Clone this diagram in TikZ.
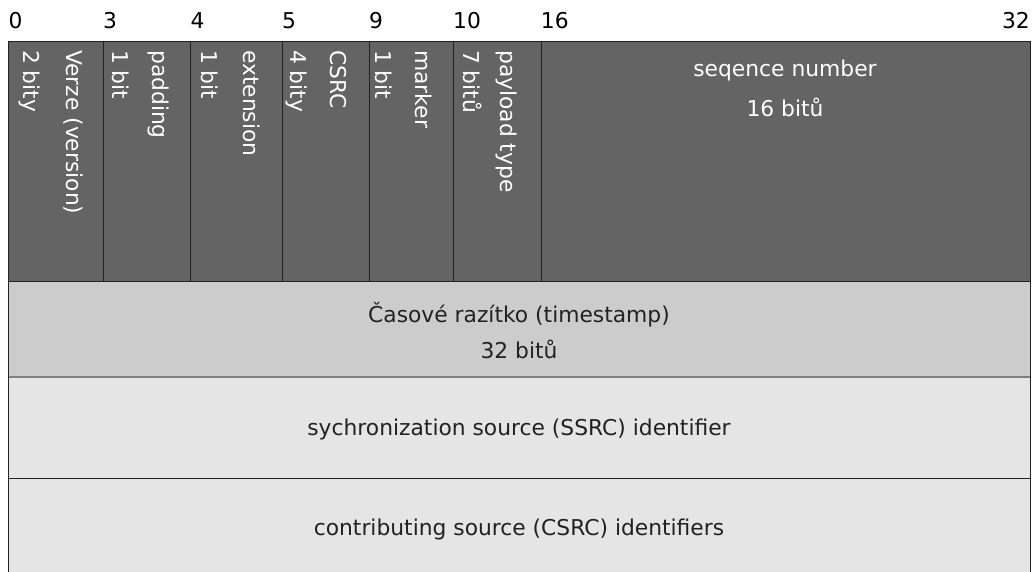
\documentclass[tikz,border=0pt]{standalone}
\usepackage{fontspec}
\setmainfont{DejaVu Sans}
\usepackage{tikz}
\definecolor{hdrgray}{HTML}{646464}
\definecolor{tsgray}{HTML}{CCCCCC}
\definecolor{idgray}{HTML}{E5E5E5}
\definecolor{edgegray}{HTML}{222222}

\begin{document}
\begin{tikzpicture}[x=1pt, y=-1pt, font=\fontsize{21.8}{26}\selectfont,
  vtext/.style={rotate=-90, anchor=base west, inner sep=0pt, text=white},
  rowtext/.style={anchor=base, inner sep=0pt, text=edgegray},
  bitno/.style={anchor=base west, inner sep=0pt}]
\useasboundingbox (0,0) rectangle (1032,572);
\clip (0,0) rectangle (1032,572);
% rows of the header
\fill[hdrgray] (8.5,41) rectangle (1030,281.5);
\fill[tsgray] (8.5,281.5) rectangle (1030,377);
\fill[idgray] (8.5,377) rectangle (1030,600);
\draw[edgegray] (8.5,600) -- (8.5,41) -- (1030,41) -- (1030,600);
\draw[edgegray] (8.5,281.5) -- (1030,281.5);
\draw[gray, line width=1.5pt] (8.5,377) -- (1030,377);
\draw[edgegray] (8.5,478) -- (1030,478);
\foreach \x in {103,190.5,282,369,453,540.7}
  \draw[edgegray] (\x,41) -- (\x,281.5);
% bit offsets
\foreach \x/\t [count=\i] in {8.5/0,103/3,190.5/4,282/5,369/9,453/10,540.7/16}
  \node[bitno] (off\i) at (\x,29) {\t};
\node[bitno, anchor=base east] (off32) at (1030,29) {32};
% narrow fields, written downwards
\foreach \b/\n/\bits/\name [count=\i] in {23.5/66/{2 bity}/{Verze (version)},
    112/152/{1 bit}/{padding}, 201.7/243.3/{1 bit}/{extension},
    290.7/330/{4 bity}/{CSRC}, 375/415/{1 bit}/{marker},
    463.3/500/{7 bitů}/{payload type}} {
  \node[vtext] (bits\i) at (\b,50) {\bits};
  \node[vtext] (name\i) at (\n,50) {\name};
}
\node[rowtext, text=white] (seq) at (785,77) {seqence number};
\node[rowtext, text=white] (seqbits) at (785,117) {16 bitů};
\node[rowtext] (ts) at (519,322) {Časové razítko (timestamp)};
\node[rowtext] (tsbits) at (519,358) {32 bitů};
\node[rowtext] (ssrc) at (519,435) {sychronization source (SSRC) identifier};
\node[rowtext] (csrc) at (519,535) {contributing source (CSRC) identifiers};
\end{tikzpicture}
\end{document}
